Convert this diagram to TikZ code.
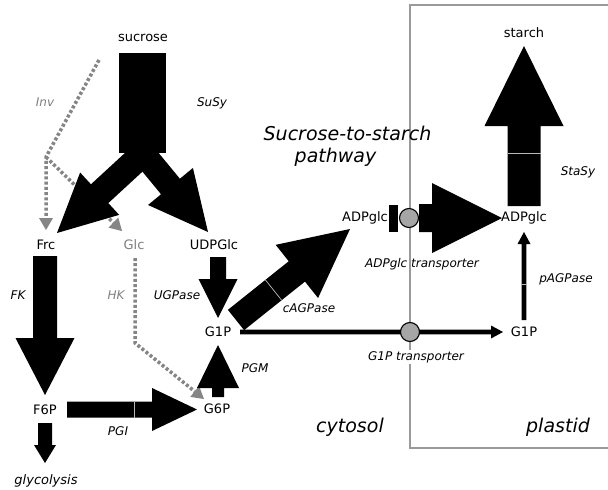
\documentclass[tikz,border=0pt]{standalone}
\usepackage{fontspec}
\setmainfont{DejaVu Sans}
\usetikzlibrary{calc}
\definecolor{lblgray}{HTML}{7F7F7F}
\definecolor{dotgray}{HTML}{858585}
\definecolor{tgray}{HTML}{A6A6A6}
\definecolor{boxgray}{HTML}{9A9A9A}
% block arrow: [colour]{start}{tip}{half shaft}{half head}{head length}
\newcommand{\blockarrow}[6][black]{%
  \coordinate (ba-b) at ($(#3)!#6!(#2)$);
  \fill[#1] ($(#2)!#4!90:(#3)$) -- ($(ba-b)!#4!-90:(#2)$) -- ($(ba-b)!#5!-90:(#2)$) -- (#3)
    -- ($(ba-b)!#5!90:(#2)$) -- ($(ba-b)!#4!90:(#2)$) -- ($(#2)!#4!-90:(#3)$) -- cycle;}
% arrow head only: [colour]{from}{tip}{half width}{length}
\newcommand{\headonly}[5][black]{%
  \coordinate (ho-b) at ($(#3)!#5!(#2)$);
  \fill[#1] ($(ho-b)!#4!90:(#3)$) -- (#3) -- ($(ho-b)!#4!-90:(#3)$) -- cycle;}
\begin{document}
\begin{tikzpicture}[x=1pt,y=-1pt,
  met/.style={font=\fontsize{13}{15}\selectfont, inner sep=0pt},
  enz/.style={font=\fontsize{12}{14}\selectfont\itshape, inner sep=0pt},
  bigt/.style={font=\fontsize{19}{22}\selectfont\itshape, inner sep=0pt},
  dotline/.style={draw=dotgray, line width=3.5pt, dash pattern=on 3pt off 2.2pt},
  seam/.style={draw=gray!55, line width=0.7pt},
  transp/.style={circle, fill=tgray, draw=black, line width=1.1pt, minimum size=19pt, inner sep=0pt}]
\useasboundingbox (0,0) rectangle (608,490);
\fill[white] (0,0) rectangle (608,490);

% plastid compartment
\draw[boxgray, line width=1.3pt] (608,5) -- (410,5) -- (410,448) -- (608,448);

% ---- gray dotted connectors (invertase, hexokinase)
\coordinate (inv0) at (99,60);
\coordinate (inv1) at (46,157);
\coordinate (frcTip) at (46,230);
\coordinate (glcTip) at (122,231);
\draw[dotline] (inv0) -- (inv1) -- ($(frcTip)!12pt!(inv1)$);
\draw[dotline] (inv1) -- ($(glcTip)!12pt!(inv1)$);
\headonly[dotgray]{inv1}{frcTip}{7pt}{12pt}
\headonly[dotgray]{inv1}{glcTip}{7pt}{12pt}
\coordinate (hk0) at (135,258);
\coordinate (hk1) at (135,343);
\coordinate (hkTip) at (204,399);
\draw[dotline] (hk0) -- (hk1) -- ($(hkTip)!12pt!(hk1)$);
\headonly[dotgray]{hk1}{hkTip}{7pt}{12pt}

% ---- SuSy
\fill[black] (119,53) rectangle (166,153);
\coordinate (suL0) at (140,156.5); \coordinate (suL1) at (57,233);
\coordinate (suR0) at (140.4,150); \coordinate (suR1) at (208,232);
\blockarrow{suL0}{suL1}{12.8pt}{28.8pt}{58pt}
\blockarrow{suR0}{suR1}{12.2pt}{29.1pt}{59pt}

% ---- FK
\coordinate (fk0) at (45,256); \coordinate (fk1) at (45,395);
\blockarrow{fk0}{fk1}{12pt}{29.5pt}{57pt}
% ---- glycolysis
\coordinate (gl0) at (45,423); \coordinate (gl1) at (45,463);
\blockarrow{gl0}{gl1}{7pt}{11pt}{18pt}
% ---- PGI
\coordinate (pgi0) at (67,409.5); \coordinate (pgi1) at (197,409.5);
\blockarrow{pgi0}{pgi1}{8pt}{21.5pt}{45pt}
\draw[seam] (134,401.5) -- (134,417.5);
% ---- UGPase
\coordinate (ug0) at (218,257); \coordinate (ug1) at (218,318);
\blockarrow{ug0}{ug1}{8pt}{19.5pt}{39pt}
% ---- PGM
\coordinate (pgm0) at (218,397); \coordinate (pgm1) at (218,345);
\blockarrow{pgm0}{pgm1}{6pt}{21pt}{43pt}
% ---- cAGPase
\coordinate (ca0) at (236,320); \coordinate (ca1) at (350,229);
\blockarrow{ca0}{ca1}{13pt}{34pt}{68pt}
\coordinate (caS) at ($(ca0)!48pt!(ca1)$);
\draw[seam] ($(caS)!13pt!90:(ca1)$) -- ($(caS)!13pt!-90:(ca1)$);

% ---- G1P transporter line
\coordinate (gt0) at (240,332); \coordinate (gt1) at (503,332);
\blockarrow{gt0}{gt1}{2.4pt}{6.5pt}{12pt}
\node[transp] (g1ptr) at (410,332) {};

% ---- pAGPase
\coordinate (pa0) at (524,320); \coordinate (pa1) at (524,232);
\blockarrow{pa0}{pa1}{2.4pt}{6.5pt}{12pt}
\draw[seam] (521,284) -- (527,284);

% ---- ADPglc transporter
\fill[black] (389,205) rectangle (398,232);
\node[transp] (adptr) at (409,218) {};
\coordinate (at0) at (419,218); \coordinate (at1) at (502,218);
\blockarrow{at0}{at1}{14pt}{35pt}{70pt}

% ---- StaSy
\coordinate (st0) at (524,206); \coordinate (st1) at (524,46);
\blockarrow{st0}{st1}{16.5pt}{39.5pt}{80pt}
\draw[seam] (507.5,153) -- (540.5,153);

% ---- labels
\node[met] (suc) at (143,38) {sucrose};
\node[enz] (susy) at (212,103) {SuSy};
\node[enz, text=lblgray] (inv) at (45,102) {Inv};
\node[met] (frc) at (46,245) {Frc};
\node[met, text=lblgray] (glc) at (134,245) {Glc};
\node[met] (udpg) at (214,245) {UDPGlc};
\node[enz] (fk) at (18,295) {FK};
\node[enz, text=lblgray] (hk) at (116,295) {HK};
\node[enz] (ugp) at (177,295) {UGPase};
\node[met] (g1pc) at (218,332) {G1P};
\node[enz] (cag) at (309,308) {cAGPase};
\node[enz] (pgm) at (255,368) {PGM};
\node[met] (f6p) at (45,410) {F6P};
\node[met] (g6p) at (217,409) {G6P};
\node[enz] (pgi) at (118,431) {PGI};
\node[met, font=\fontsize{13}{15}\selectfont\itshape] (glyc) at (46,481) {glycolysis};
\node[bigt] (title1) at (347.5,133) {Sucrose-to-starch};
\node[bigt] (title2) at (335.5,157) {pathway};
\node[met] (adpc) at (365,218) {ADPglc};
\node[met] (adpp) at (524,218) {ADPglc};
\node[enz] (adptrl) at (422,264) {ADPglc transporter};
\node[met] (starch) at (524,33) {starch};
\node[enz] (stasy) at (578,172) {StaSy};
\node[enz] (pagp) at (566,279) {pAGPase};
\node[met] (g1pp) at (524,332) {G1P};
\node[enz, fill=white, inner sep=1.5pt] (g1ptrl) at (416,357) {G1P transporter};
\node[bigt] (cyto) at (350,427) {cytosol};
\node[bigt] (plas) at (558,427) {plastid};
\end{tikzpicture}
\end{document}
